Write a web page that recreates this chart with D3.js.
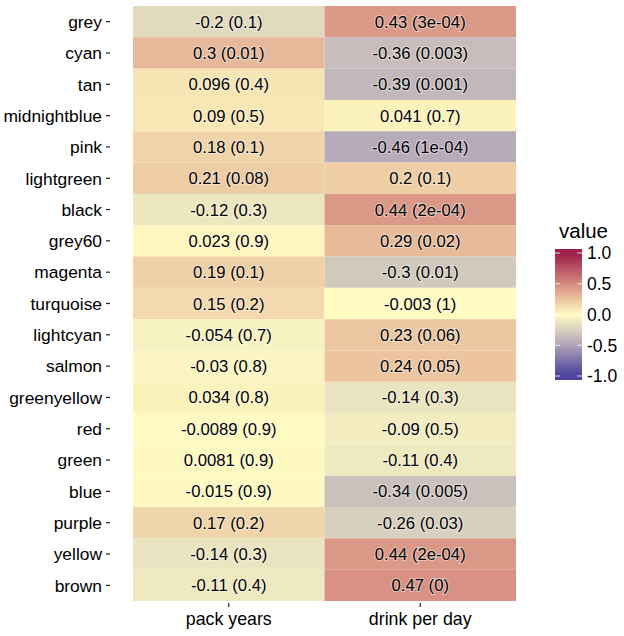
<!DOCTYPE html>
<html>
<head>
<meta charset="utf-8">
<script src="https://cdn.jsdelivr.net/npm/d3@7"></script>
<style>
  body { margin: 0; background: #fff; }
  text { font-family: "Liberation Sans", Arial, sans-serif; fill: #000; }
</style>
</head>
<body>
<div id="chart"></div>
<script>
// modules (rows, top to bottom) and traits (columns)
var modules = ["grey", "cyan", "tan", "midnightblue", "pink", "lightgreen", "black", "grey60",
  "magenta", "turquoise", "lightcyan", "salmon", "greenyellow", "red", "green", "blue",
  "purple", "yellow", "brown"];
var traits = ["pack years", "drink per day"];

// correlation and p-value per trait
var packYears = [-0.2, 0.3, 0.096, 0.09, 0.18, 0.21, -0.12, 0.023, 0.19, 0.15, -0.054, -0.03,
  0.034, -0.0089, 0.0081, -0.015, 0.17, -0.14, -0.11];
var packYearsP = ["0.1", "0.01", "0.4", "0.5", "0.1", "0.08", "0.3", "0.9", "0.1", "0.2", "0.7",
  "0.8", "0.8", "0.9", "0.9", "0.9", "0.2", "0.3", "0.4"];
var drinkPerDay = [0.43, -0.36, -0.39, 0.041, -0.46, 0.2, 0.44, 0.29, -0.3, -0.003, 0.23, 0.24,
  -0.14, -0.09, -0.11, -0.34, -0.26, 0.44, 0.47];
var drinkPerDayP = ["3e-04", "0.003", "0.001", "0.7", "1e-04", "0.1", "2e-04", "0.02", "0.01",
  "1", "0.06", "0.05", "0.3", "0.5", "0.4", "0.005", "0.03", "2e-04", "0"];

var legendTicks = [1.0, 0.5, 0.0, -0.5, -1.0];

var W = 624, H = 636;
var margin = {top: 6, left: 133, right: 108, bottom: 35};

var svg = d3.select("#chart").append("svg")
    .attr("width", W)
    .attr("height", H);

// build one cell per module x trait
var cells = [];
modules.forEach(function(m, i) {
  cells.push({module: m, trait: traits[0], value: packYears[i], p: packYearsP[i]});
  cells.push({module: m, trait: traits[1], value: drinkPerDay[i], p: drinkPerDayP[i]});
});

var x = d3.scaleBand().domain(traits).range([margin.left, W - margin.right]).padding(0);
var y = d3.scaleBand().domain(modules).range([margin.top, H - margin.bottom]).padding(0);

var color = d3.scaleLinear()
    .domain([-1, -0.5, -0.25, 0, 0.25, 0.5, 1])
    .range(["#4a3f9c", "#b0a3b8", "#dad2bf", "#fffbc1", "#ebc39f", "#d58a7f", "#9c1d48"])
    .interpolate(d3.interpolateRgb)
    .clamp(true);

// tiles
svg.append("g").selectAll("rect")
    .data(cells)
    .enter().append("rect")
    .attr("x", function(d) { return x(d.trait); })
    .attr("y", function(d) { return y(d.module); })
    .attr("width", x.bandwidth())
    .attr("height", y.bandwidth())
    .attr("fill", function(d) { return color(d.value); });

// cell labels
svg.append("g").selectAll("text")
    .data(cells)
    .enter().append("text")
    .attr("x", function(d) { return x(d.trait) + x.bandwidth() / 2; })
    .attr("y", function(d) { return y(d.module) + y.bandwidth() / 2; })
    .attr("dy", "0.36em")
    .attr("text-anchor", "middle")
    .style("font-size", "16.7px")
    .style("stroke", "rgba(255,255,255,0.45)")
    .style("stroke-width", "2px")
    .style("paint-order", "stroke")
    .text(function(d) { return d.value + " (" + d.p + ")"; });

// y axis: ticks sit a little away from the tiles
var yAxis = svg.append("g");
modules.forEach(function(m) {
  var cy = y(m) + y.bandwidth() / 2;
  yAxis.append("line")
      .attr("x1", 106).attr("x2", 110)
      .attr("y1", cy).attr("y2", cy)
      .attr("stroke", "#222").attr("stroke-width", 1.2);
  yAxis.append("text")
      .attr("x", 102)
      .attr("y", cy)
      .attr("dy", "0.36em")
      .attr("text-anchor", "end")
      .style("font-size", "17.4px")
      .text(m);
});

// x axis
var xAxis = svg.append("g");
traits.forEach(function(t) {
  var cx = x(t) + x.bandwidth() / 2;
  xAxis.append("line")
      .attr("x1", cx).attr("x2", cx)
      .attr("y1", H - margin.bottom + 2).attr("y2", H - margin.bottom + 6)
      .attr("stroke", "#222").attr("stroke-width", 1.2);
  xAxis.append("text")
      .attr("x", cx)
      .attr("y", H - margin.bottom + 18)
      .attr("dy", "0.36em")
      .attr("text-anchor", "middle")
      .style("font-size", "17.8px")
      .text(t);
});

// legend
var legX = 555, legW = 27, legTop = 249, legBottom = 380;
var ly = d3.scaleLinear().domain([1, -1]).range([legTop + 4, legBottom - 4]);

var grad = svg.append("defs").append("linearGradient")
    .attr("id", "legendGrad")
    .attr("x1", 0).attr("x2", 0).attr("y1", 0).attr("y2", 1);
d3.range(0, 1.0001, 0.05).forEach(function(t) {
  grad.append("stop")
      .attr("offset", t)
      .attr("stop-color", color(ly.invert(legTop + t * (legBottom - legTop))));
});

var legend = svg.append("g");
legend.append("text")
    .attr("x", legX + 4)
    .attr("y", 238)
    .style("font-size", "20.5px")
    .text("value");
legend.append("rect")
    .attr("x", legX).attr("y", legTop)
    .attr("width", legW).attr("height", legBottom - legTop)
    .attr("fill", "url(#legendGrad)");
legendTicks.forEach(function(v) {
  var ty = ly(v);
  legend.append("line")
      .attr("x1", legX).attr("x2", legX + 5)
      .attr("y1", ty).attr("y2", ty)
      .attr("stroke", "#fff").attr("stroke-opacity", 0.8);
  legend.append("line")
      .attr("x1", legX + legW - 5).attr("x2", legX + legW)
      .attr("y1", ty).attr("y2", ty)
      .attr("stroke", "#fff").attr("stroke-opacity", 0.8);
  legend.append("text")
      .attr("x", legX + legW + 5)
      .attr("y", ty)
      .attr("dy", "0.36em")
      .style("font-size", "17.5px")
      .text(d3.format(".1f")(v).replace("−", "-"));
});
</script>
</body>
</html>
